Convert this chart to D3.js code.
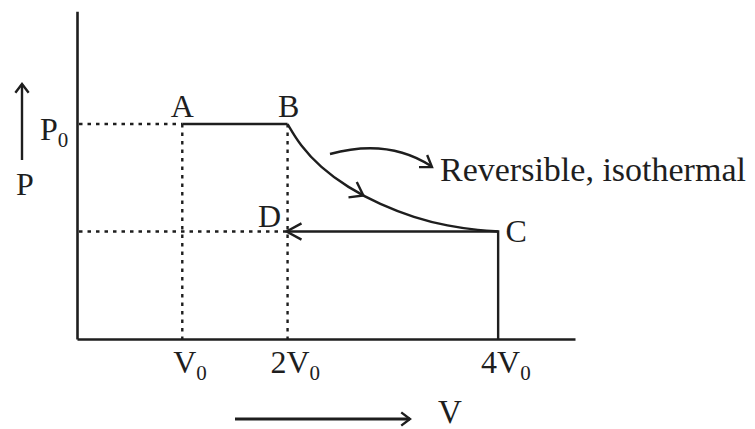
<!DOCTYPE html>
<html>
<head>
<meta charset="utf-8">
<script src="https://cdn.jsdelivr.net/npm/d3@7"></script>
<style>
  html, body { margin: 0; padding: 0; background: #fff; }
  svg { display: block; }
  text { font-family: "Liberation Serif", "DejaVu Serif", serif; fill: #1e1e1e; }
</style>
</head>
<body>
<script>
// states of the cycle (V in units of V0, P in units of P0)
const states = ['A', 'B', 'C', 'D'];
const stateV = [1, 2, 4, 2];
const stateP = [1, 1, 0.5, 0.5];

// B -> C reversible isothermal path
const isoV = [2, 2.12, 2.31, 2.57, 2.88, 3.2, 3.52, 3.83, 4];
const isoP = [1, 0.9, 0.8, 0.705, 0.625, 0.565, 0.525, 0.505, 0.5];

const tickV = [1, 2, 4];
const tickLabels = ['V', '2V', '4V'];
const tickP = [1];
const pTickLabels = ['P'];

const width = 755;
const height = 429;
const ink = '#1e1e1e';

const x = d3.scaleLinear().domain([0, 4.73]).range([77, 575]);
const y = d3.scaleLinear().domain([0, 1]).range([339, 124]);

const svg = d3.select('body').append('svg')
  .attr('width', width)
  .attr('height', height);

// open chevron arrow head, tip at (tx, ty), pointing along angle
const chevron = (tx, ty, angle, len, spread) => {
  const a1 = angle + Math.PI - spread;
  const a2 = angle + Math.PI + spread;
  svg.append('path')
    .attr('d', `M${tx + len * Math.cos(a1)},${ty + len * Math.sin(a1)}L${tx},${ty}L${tx + len * Math.cos(a2)},${ty + len * Math.sin(a2)}`)
    .attr('fill', 'none')
    .attr('stroke', ink)
    .attr('stroke-width', 2.4)
    .attr('stroke-linejoin', 'miter');
};

// axes
const xAxis = svg.append('g')
  .attr('transform', `translate(0,${y(0)})`)
  .call(d3.axisBottom(x).tickValues(tickV).tickSize(0).tickSizeOuter(0).tickFormat(''));
svg.append('g')
  .attr('transform', `translate(${x(0)},0)`)
  .call(d3.axisLeft(d3.scaleLinear().domain([0, 1.525]).range([y(0), y(1.525)])).tickValues([]).tickSizeOuter(0));
svg.selectAll('.domain')
  .attr('stroke', ink)
  .attr('stroke-width', 2.6);

// tick labels with subscript 0
xAxis.selectAll('.tick text').remove();
xAxis.selectAll('.tick').each(function (d, i) {
  const t = d3.select(this).append('text')
    .attr('y', 34)
    .attr('font-size', 32)
    .attr('text-anchor', 'start');
  t.append('tspan').text(tickLabels[i]);
  t.append('tspan').text('0').attr('font-size', 21).attr('dy', 7);
  const main = t.select('tspan').node().getComputedTextLength();
  t.attr('x', -main / 2 + 2);
});

tickP.forEach((p, i) => {
  const t = svg.append('text')
    .attr('x', 40)
    .attr('y', y(p) + 16)
    .attr('font-size', 32);
  t.append('tspan').text(pTickLabels[i]);
  t.append('tspan').text('0').attr('font-size', 21).attr('dy', 7);
});

// dotted guide lines
const dotted = (x1, y1, x2, y2) => {
  svg.append('line')
    .attr('x1', x1).attr('y1', y1).attr('x2', x2).attr('y2', y2)
    .attr('stroke', ink)
    .attr('stroke-width', 2.4)
    .attr('stroke-dasharray', '3.5,5');
};
dotted(x(0) + 2, y(stateP[0]), x(stateV[0]), y(stateP[0]));
dotted(x(stateV[0]), y(stateP[0]), x(stateV[0]), y(0));
dotted(x(stateV[1]), y(stateP[1]), x(stateV[1]), y(0));
dotted(x(0) + 2, y(stateP[3]), x(stateV[3]), y(stateP[3]));

const solid = (d) => svg.append('path')
  .attr('d', d)
  .attr('fill', 'none')
  .attr('stroke', ink)
  .attr('stroke-width', 2.4);

// A -> B
solid(`M${x(stateV[0])},${y(stateP[0])}H${x(stateV[1])}`);

// B -> C isotherm
const iso = d3.line()
  .x((d, i) => x(isoV[i]))
  .y((d, i) => y(isoP[i]))
  .curve(d3.curveBasis);
const isoPath = solid(iso(isoV));
const node = isoPath.node();
const total = node.getTotalLength();
// find point on curve near V = 2.72 for the mid arrow
let lo = 0, hi = total;
for (let k = 0; k < 30; k++) {
  const mid = (lo + hi) / 2;
  if (node.getPointAtLength(mid).x < x(2.72)) lo = mid; else hi = mid;
}
const pA = node.getPointAtLength(lo);
const pB = node.getPointAtLength(lo - 2);
chevron(pA.x, pA.y, Math.atan2(pA.y - pB.y, pA.x - pB.x), 15, 0.62);

// C -> D and C down to the V axis
solid(`M${x(stateV[2])},${y(0)}V${y(stateP[2])}H${x(stateV[3]) - 1}`);
chevron(x(stateV[3]) - 1, y(stateP[3]), Math.PI, 17, 0.5);

// state labels
const labelDx = [0, 1, 18, -18];
const labelDy = [-7, -7, 10, -5];
svg.selectAll('text.state')
  .data(states)
  .enter()
  .append('text')
    .attr('class', 'state')
    .attr('x', (d, i) => x(stateV[i]) + labelDx[i])
    .attr('y', (d, i) => y(stateP[i]) + labelDy[i])
    .attr('text-anchor', 'middle')
    .attr('font-size', 32)
    .text(d => d);

// curved pointer to the annotation
svg.append('path')
  .attr('d', 'M330,154 Q388,138 431,166')
  .attr('fill', 'none')
  .attr('stroke', ink)
  .attr('stroke-width', 2.4);
chevron(432, 167, Math.atan2(166 - 152, 431 - 410), 13, 0.6);

svg.append('text')
  .attr('x', 440)
  .attr('y', 181)
  .attr('font-size', 34)
  .text('Reversible, isothermal');

// axis name arrows
svg.append('line')
  .attr('x1', 22).attr('y1', 160).attr('x2', 22).attr('y2', 84)
  .attr('stroke', ink).attr('stroke-width', 2.4);
chevron(22, 84, -Math.PI / 2, 11, 0.65);
svg.append('text')
  .attr('x', 25).attr('y', 195)
  .attr('text-anchor', 'middle')
  .attr('font-size', 32)
  .text('P');

svg.append('line')
  .attr('x1', 235).attr('y1', 419).attr('x2', 410).attr('y2', 419)
  .attr('stroke', ink).attr('stroke-width', 2.8);
chevron(410, 419, 0, 11, 0.65);
svg.append('text')
  .attr('x', 450).attr('y', 423)
  .attr('text-anchor', 'middle')
  .attr('font-size', 33)
  .text('V');
</script>
</body>
</html>
